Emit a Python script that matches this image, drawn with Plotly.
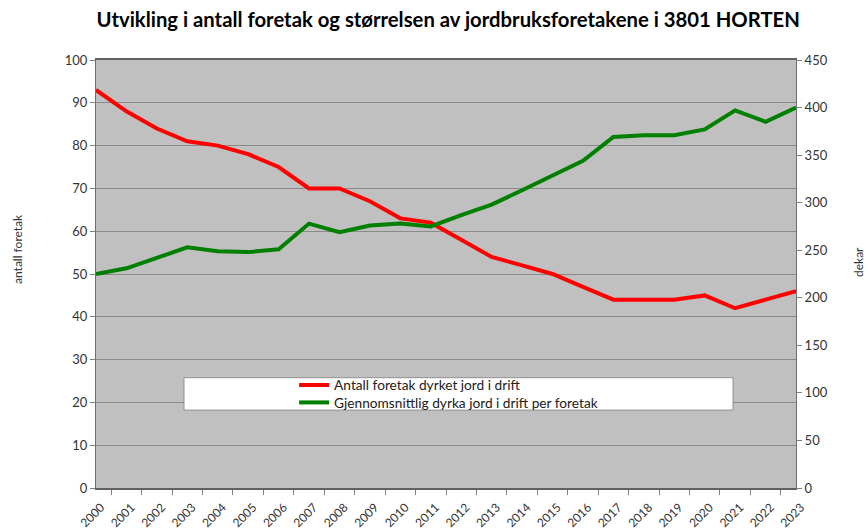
import plotly.graph_objects as go

years = [str(y) for y in range(2000, 2024)]
antall_foretak = [93, 88, 84, 81, 80, 78, 75, 70, 70, 67, 63, 62, 58, 54, 52, 50, 47, 44, 44, 44, 45, 42, 44, 46]
dekar_per_foretak = [225, 231, 242, 253, 249, 248, 251, 278, 269, 276, 278, 275, 287, 298, 313, 329, 344, 369, 371, 371, 377, 397, 385, 400]

title_text = "Utvikling i antall foretak og størrelsen av jordbruksforetakene i 3801 HORTEN"
name_red = "Antall foretak dyrket jord i drift"
name_green = "Gjennomsnittlig dyrka jord i drift per foretak"
left_title = "antall foretak"
right_title = "dekar"

font_family = "Lato, Carlito, Calibri, sans-serif"
tick_font = dict(family=font_family, size=13, color="#333333")
legend_font = dict(family=font_family, size=13.7, color="#202020")

fig = go.Figure()
fig.add_trace(go.Scatter(x=years, y=antall_foretak, name=name_red, mode="lines",
                         line=dict(color="#ff0000", width=4), yaxis="y", legend="legend"))
fig.add_trace(go.Scatter(x=years, y=dekar_per_foretak, name=name_green, mode="lines",
                         line=dict(color="#008000", width=4), yaxis="y2", legend="legend2"))

fig.update_layout(
    width=867, height=531,
    margin=dict(l=96, r=71, t=60, b=43, autoexpand=False),
    paper_bgcolor="white",
    plot_bgcolor="#c0c0c0",
    title=dict(text="<b>" + title_text + "</b>", x=0.517, xanchor="center", y=0.962, yanchor="middle",
               font=dict(family=font_family, size=20.3, color="black")),
    xaxis=dict(type="category", tickson="boundaries", ticks="outside", ticklen=5, tickcolor="#808080",
               tickangle=-45, tickfont=dict(family=font_family, size=12, color="#333333"), showgrid=False,
               ticklabelstandoff=6, ticklabelshift=5,
               showline=True, linecolor="#606060", linewidth=1.5, mirror=True, automargin=False),
    yaxis=dict(range=[0, 100], dtick=10, ticks="outside", ticklen=5, tickcolor="#808080",
               tickfont=tick_font, showgrid=True, gridcolor="#8a8a8a", gridwidth=1,
               showline=True, linecolor="#707070", linewidth=1, mirror=True, zeroline=False,
               automargin=False),
    yaxis2=dict(range=[0, 450], dtick=50, overlaying="y", side="right", ticks="outside", ticklen=5,
                tickcolor="#808080", tickfont=tick_font, showgrid=False, zeroline=False,
                automargin=False),
    showlegend=True,
    legend=dict(x=0.283, y=(488 - 385) / 428, xanchor="left", yanchor="middle", bgcolor="rgba(0,0,0,0)",
                font=legend_font, itemwidth=30),
    legend2=dict(x=0.283, y=(488 - 402.5) / 428, xanchor="left", yanchor="middle", bgcolor="rgba(0,0,0,0)",
                 font=legend_font, itemwidth=30),
    shapes=[dict(type="rect", xref="paper", yref="paper", x0=0.1257, x1=0.91, y0=0.182, y1=0.2577,
                 fillcolor="white", line=dict(color="#909090", width=1), layer="above")],
    annotations=[
        dict(text=left_title, xref="paper", yref="paper", x=(18 - 96) / 700, y=(488 - 249) / 428,
             xanchor="center", yanchor="middle", textangle=-90, showarrow=False,
             font=dict(family=font_family, size=12, color="#333333")),
        dict(text=right_title, xref="paper", yref="paper", x=(858 - 96) / 700, y=(488 - 262) / 428,
             xanchor="center", yanchor="middle", textangle=-90, showarrow=False,
             font=dict(family=font_family, size=12, color="#333333")),
    ],
)

fig.write_html("out.html", config={"displayModeBar": False},
               post_script="document.body.style.margin='0';")
